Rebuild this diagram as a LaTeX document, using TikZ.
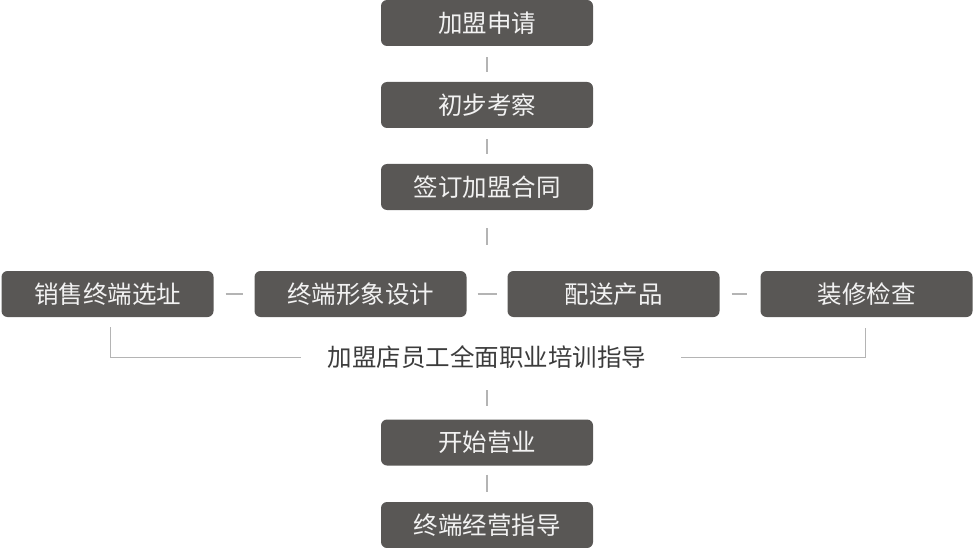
\documentclass[tikz,border=0pt]{standalone}
\usepackage{fontspec}
\setmainfont{Noto Sans CJK SC}
\usepackage{tikz}

\definecolor{boxgray}{HTML}{595755}
\definecolor{linegray}{HTML}{B4B4B4}
\definecolor{textgray}{HTML}{3C3C3C}

\begin{document}
\begin{tikzpicture}[x=1pt,y=1pt,
    stepbox/.style={fill=boxgray,text=white!95!black,rounded corners=6pt,
        minimum width=212pt,minimum height=46pt,inner sep=0pt,
        font=\fontsize{24.5}{28}\selectfont},
    link/.style={draw=linegray,line width=1.4pt}]
    \useasboundingbox (0,0) rectangle (976,-548);

    % nodes
    \node[stepbox] (apply) at (487,-23) {加盟申请};
    \node[stepbox] (check) at (487,-105) {初步考察};
    \node[stepbox] (contract) at (487,-187) {签订加盟合同};

    \node[stepbox] (site) at (107.5,-294) {销售终端选址};
    \node[stepbox] (design) at (360.5,-294) {终端形象设计};
    \node[stepbox] (deliver) at (613.5,-294) {配送产品};
    \node[stepbox] (decor) at (866.5,-294) {装修检查};

    \node[text=textgray,font=\fontsize{24.5}{28}\selectfont,inner sep=0pt] (train) at (487,-357) {加盟店员工全面职业培训指导};
    \coordinate (rowtop) at (487,-245);
    \coordinate (trainend) at (487,-390);

    \node[stepbox] (open) at (487,-442.5) {开始营业};
    \node[stepbox] (guide) at (487,-525) {终端经营指导};

    % edges
    \draw[link,shorten <=11pt,shorten >=10pt] (apply) -- (check);
    \draw[link,shorten <=11pt,shorten >=10pt] (check) -- (contract);
    \draw[link,shorten <=18pt] (contract) -- (rowtop);
    \draw[link,shorten <=12pt,shorten >=11pt] (site) -- (design);
    \draw[link,shorten <=11pt,shorten >=10pt] (design) -- (deliver);
    \draw[link,shorten <=12pt,shorten >=13pt] (deliver) -- (decor);
    \draw[link,line width=1pt] ([xshift=2.5pt,yshift=-10pt]site.south) |- ([xshift=-27pt]train.west);
    \draw[link,line width=1pt] ([xshift=-1.5pt,yshift=-11pt]decor.south) |- ([xshift=35pt]train.east);
    \draw[link,shorten >=13pt] (trainend) -- (open);
    \draw[link,shorten <=9pt,shorten >=10pt] (open) -- (guide);
\end{tikzpicture}
\end{document}
